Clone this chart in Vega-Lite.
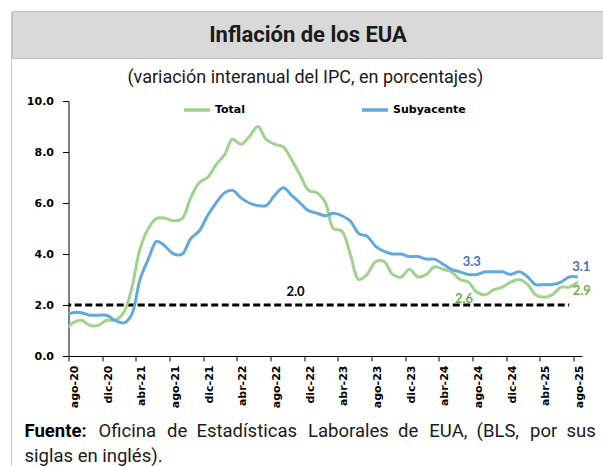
{
  "$schema": "https://vega.github.io/schema/vega-lite/v6.json",
  "padding": {"left": 10, "top": 10, "right": 0, "bottom": 0},
  "background": "white",
  "config": {"view": {"stroke": null}, "font": "Roboto"},
  "datasets": {
    "inflacion": [
      {"fecha": "2020-07-01", "Total": 1.0, "Subyacente": 1.6},
      {"fecha": "2020-08-01", "Total": 1.3, "Subyacente": 1.7},
      {"fecha": "2020-09-01", "Total": 1.4, "Subyacente": 1.7},
      {"fecha": "2020-10-01", "Total": 1.2, "Subyacente": 1.6},
      {"fecha": "2020-11-01", "Total": 1.2, "Subyacente": 1.6},
      {"fecha": "2020-12-01", "Total": 1.4, "Subyacente": 1.6},
      {"fecha": "2021-01-01", "Total": 1.4, "Subyacente": 1.4},
      {"fecha": "2021-02-01", "Total": 1.7, "Subyacente": 1.3},
      {"fecha": "2021-03-01", "Total": 2.6, "Subyacente": 1.6},
      {"fecha": "2021-04-01", "Total": 4.2, "Subyacente": 3.0},
      {"fecha": "2021-05-01", "Total": 5.0, "Subyacente": 3.8},
      {"fecha": "2021-06-01", "Total": 5.4, "Subyacente": 4.5},
      {"fecha": "2021-07-01", "Total": 5.4, "Subyacente": 4.3},
      {"fecha": "2021-08-01", "Total": 5.3, "Subyacente": 4.0},
      {"fecha": "2021-09-01", "Total": 5.4, "Subyacente": 4.0},
      {"fecha": "2021-10-01", "Total": 6.2, "Subyacente": 4.6},
      {"fecha": "2021-11-01", "Total": 6.8, "Subyacente": 4.9},
      {"fecha": "2021-12-01", "Total": 7.0, "Subyacente": 5.5},
      {"fecha": "2022-01-01", "Total": 7.5, "Subyacente": 6.0},
      {"fecha": "2022-02-01", "Total": 7.9, "Subyacente": 6.4},
      {"fecha": "2022-03-01", "Total": 8.5, "Subyacente": 6.5},
      {"fecha": "2022-04-01", "Total": 8.3, "Subyacente": 6.2},
      {"fecha": "2022-05-01", "Total": 8.6, "Subyacente": 6.0},
      {"fecha": "2022-06-01", "Total": 9.0, "Subyacente": 5.9},
      {"fecha": "2022-07-01", "Total": 8.5, "Subyacente": 5.9},
      {"fecha": "2022-08-01", "Total": 8.3, "Subyacente": 6.3},
      {"fecha": "2022-09-01", "Total": 8.2, "Subyacente": 6.6},
      {"fecha": "2022-10-01", "Total": 7.7, "Subyacente": 6.3},
      {"fecha": "2022-11-01", "Total": 7.1, "Subyacente": 6.0},
      {"fecha": "2022-12-01", "Total": 6.5, "Subyacente": 5.7},
      {"fecha": "2023-01-01", "Total": 6.4, "Subyacente": 5.6},
      {"fecha": "2023-02-01", "Total": 6.0, "Subyacente": 5.5},
      {"fecha": "2023-03-01", "Total": 5.0, "Subyacente": 5.6},
      {"fecha": "2023-04-01", "Total": 4.9, "Subyacente": 5.5},
      {"fecha": "2023-05-01", "Total": 4.0, "Subyacente": 5.3},
      {"fecha": "2023-06-01", "Total": 3.0, "Subyacente": 4.8},
      {"fecha": "2023-07-01", "Total": 3.2, "Subyacente": 4.7},
      {"fecha": "2023-08-01", "Total": 3.7, "Subyacente": 4.3},
      {"fecha": "2023-09-01", "Total": 3.7, "Subyacente": 4.1},
      {"fecha": "2023-10-01", "Total": 3.2, "Subyacente": 4.0},
      {"fecha": "2023-11-01", "Total": 3.1, "Subyacente": 4.0},
      {"fecha": "2023-12-01", "Total": 3.4, "Subyacente": 3.9},
      {"fecha": "2024-01-01", "Total": 3.1, "Subyacente": 3.9},
      {"fecha": "2024-02-01", "Total": 3.2, "Subyacente": 3.8},
      {"fecha": "2024-03-01", "Total": 3.5, "Subyacente": 3.8},
      {"fecha": "2024-04-01", "Total": 3.4, "Subyacente": 3.6},
      {"fecha": "2024-05-01", "Total": 3.3, "Subyacente": 3.4},
      {"fecha": "2024-06-01", "Total": 3.0, "Subyacente": 3.3},
      {"fecha": "2024-07-01", "Total": 2.9, "Subyacente": 3.2},
      {"fecha": "2024-08-01", "Total": 2.5, "Subyacente": 3.2},
      {"fecha": "2024-09-01", "Total": 2.4, "Subyacente": 3.3},
      {"fecha": "2024-10-01", "Total": 2.6, "Subyacente": 3.3},
      {"fecha": "2024-11-01", "Total": 2.7, "Subyacente": 3.3},
      {"fecha": "2024-12-01", "Total": 2.9, "Subyacente": 3.2},
      {"fecha": "2025-01-01", "Total": 3.0, "Subyacente": 3.3},
      {"fecha": "2025-02-01", "Total": 2.8, "Subyacente": 3.1},
      {"fecha": "2025-03-01", "Total": 2.4, "Subyacente": 2.8},
      {"fecha": "2025-04-01", "Total": 2.3, "Subyacente": 2.8},
      {"fecha": "2025-05-01", "Total": 2.4, "Subyacente": 2.8},
      {"fecha": "2025-06-01", "Total": 2.7, "Subyacente": 2.9},
      {"fecha": "2025-07-01", "Total": 2.7, "Subyacente": 3.1},
      {"fecha": "2025-08-01", "Total": 2.9, "Subyacente": 3.1}
    ],
    "meta": [
      {"fecha": "2020-07-01", "fecha2": "2025-07-01", "valor": 2.0}
    ],
    "etiquetas": [
      {"fecha": "2024-07-01", "valor": 3.3, "texto": "3.3", "serie": "Subyacente"},
      {"fecha": "2025-08-01", "valor": 3.1, "texto": "3.1", "serie": "Subyacente"},
      {"fecha": "2024-06-01", "valor": 2.6, "texto": "2.6", "serie": "Total"},
      {"fecha": "2025-08-01", "valor": 2.9, "texto": "2.9", "serie": "Total"},
      {"fecha": "2022-10-01", "valor": 2.0, "texto": "2.0", "serie": "Meta"}
    ]
  },
  "spacing": -1,
  "hconcat": [
    {
      "width": 0.001,
      "height": 455,
      "view": {"stroke": "#c8c8c8", "fill": null},
      "data": {"values": []},
      "mark": "text"
    },
    {
      "spacing": 9,
      "vconcat": [
        {
          "width": 592,
          "height": 47,
          "view": {"fill": "#d9d9d9", "stroke": "#bfbfbf"},
          "data": {"values": [{}]},
          "mark": {"type": "text", "text": "Inflación de los EUA", "font": "Roboto", "fontWeight": "bold", "fontSize": 22, "color": "#1a1a1a", "baseline": "middle", "align": "center"}
        },
        {
          "spacing": 11.5,
          "hconcat": [
            {"width": 0.001, "height": 0.001, "data": {"values": []}, "mark": "text"},
            {
              "width": 513.6,
              "height": 255,
              "title": {"text": "(variación interanual del IPC, en porcentajes)", "font": "Roboto", "fontSize": 18, "fontWeight": "normal", "color": "#1a1a1a", "anchor": "middle", "frame": "group", "dx": -20, "offset": 8.5},
              "encoding": {
                "x": {
                  "field": "fecha",
                  "type": "temporal",
                  "scale": {"type": "utc", "nice": false, "domain": [{"year": 2020, "month": 7, "date": 16, "hours": 12, "utc": true}, {"year": 2025, "month": 8, "date": 16, "hours": 12, "utc": true}]},
                  "axis": {
                    "title": null,
                    "grid": false,
                    "values": [
                      {"year": 2020, "month": 8, "date": 1, "utc": true},
                      {"year": 2020, "month": 12, "date": 1, "utc": true},
                      {"year": 2021, "month": 4, "date": 1, "utc": true},
                      {"year": 2021, "month": 8, "date": 1, "utc": true},
                      {"year": 2021, "month": 12, "date": 1, "utc": true},
                      {"year": 2022, "month": 4, "date": 1, "utc": true},
                      {"year": 2022, "month": 8, "date": 1, "utc": true},
                      {"year": 2022, "month": 12, "date": 1, "utc": true},
                      {"year": 2023, "month": 4, "date": 1, "utc": true},
                      {"year": 2023, "month": 8, "date": 1, "utc": true},
                      {"year": 2023, "month": 12, "date": 1, "utc": true},
                      {"year": 2024, "month": 4, "date": 1, "utc": true},
                      {"year": 2024, "month": 8, "date": 1, "utc": true},
                      {"year": 2024, "month": 12, "date": 1, "utc": true},
                      {"year": 2025, "month": 4, "date": 1, "utc": true},
                      {"year": 2025, "month": 8, "date": 1, "utc": true}
                    ],
                    "labelExpr": "['ene','feb','mar','abr','may','jun','jul','ago','sep','oct','nov','dic'][utcmonth(datum.value)] + '-' + utcFormat(datum.value, '%y')",
                    "labelAngle": -90,
                    "labelFont": "DejaVu Sans",
                    "labelFontWeight": "bold",
                    "labelFontSize": 11,
                    "labelColor": "black",
                    "labelPadding": 4,
                    "tickSize": 5,
                    "tickColor": "black",
                    "domainColor": "black",
                    "tickOffset": -4.21,
                    "labelOffset": 6,
                    "labelFlush": false,
                    "labelOverlap": false
                  }
                },
                "y": {
                  "field": "valor",
                  "type": "quantitative",
                  "scale": {"domain": [0, 10], "nice": false},
                  "axis": {
                    "title": null,
                    "grid": false,
                    "values": [0, 2, 4, 6, 8, 10],
                    "format": ".1f",
                    "labelFont": "DejaVu Sans",
                    "labelFontWeight": "bold",
                    "labelFontSize": 11,
                    "labelColor": "black",
                    "labelPadding": 9,
                    "tickSize": 6,
                    "tickColor": "black",
                    "domainColor": "black"
                  }
                }
              },
              "layer": [
                {
                  "data": {"name": "meta"},
                  "mark": {"type": "rule", "strokeDash": [7, 3.5], "strokeWidth": 3, "color": "black", "clip": true},
                  "encoding": {"x2": {"field": "fecha2"}}
                },
                {
                  "data": {"name": "inflacion"},
                  "transform": [{"fold": ["Total", "Subyacente"], "as": ["serie", "valor"]}],
                  "mark": {"type": "line", "interpolate": "catmull-rom", "strokeWidth": 3, "clip": true},
                  "encoding": {
                    "color": {
                      "field": "serie",
                      "type": "nominal",
                      "scale": {"domain": ["Total", "Subyacente"], "range": ["#9FD38E", "#62AADB"]},
                      "legend": {
                        "title": null,
                        "orient": "none",
                        "legendX": 171,
                        "legendY": 84,
                        "direction": "horizontal",
                        "symbolType": "stroke",
                        "symbolSize": 676,
                        "symbolStrokeWidth": 3.5,
                        "labelFont": "DejaVu Sans",
                        "labelFontWeight": "bold",
                        "labelFontSize": 11,
                        "labelColor": "black",
                        "labelOffset": 3,
                        "columnPadding": 109
                      }
                    }
                  }
                },
                {
                  "data": {"name": "etiquetas"},
                  "transform": [{"filter": "datum.serie === 'Subyacente'"}],
                  "mark": {"type": "text", "font": "Lato", "fontWeight": "bold", "fontSize": 13, "color": "#4472C4", "dx": 3.5, "dy": -10},
                  "encoding": {"text": {"field": "texto"}}
                },
                {
                  "data": {"name": "etiquetas"},
                  "transform": [{"filter": "datum.serie === 'Total'"}],
                  "mark": {"type": "text", "font": "Lato", "fontWeight": "bold", "fontSize": 13, "color": "#70AD47", "dx": 4, "dy": 9},
                  "encoding": {"text": {"field": "texto"}}
                },
                {
                  "data": {"name": "etiquetas"},
                  "transform": [{"filter": "datum.serie === 'Meta'"}],
                  "mark": {"type": "text", "font": "Lato", "fontWeight": "bold", "fontSize": 13, "color": "black", "dx": 4, "dy": -12.7},
                  "encoding": {"text": {"field": "texto"}}
                },
                {
                  "data": {"values": [{}]},
                  "mark": {"type": "text", "text": "Fuente:", "align": "left", "baseline": "middle", "font": "Roboto", "fontSize": 18.5, "fontWeight": "bold", "color": "black"},
                  "encoding": {"x": {"value": -44}, "y": {"value": 330.3}}
                },
                {
                  "data": {"values": [{}]},
                  "mark": {"type": "text", "text": "Oficina\u00a0\u200a de\u00a0 Estadísticas\u00a0\u200a Laborales\u00a0 de\u00a0\u200a EUA,\u00a0 (BLS,\u00a0\u200a por\u00a0 sus", "align": "left", "baseline": "middle", "font": "Roboto", "fontSize": 18.5, "color": "#1a1a1a"},
                  "encoding": {"x": {"value": 30}, "y": {"value": 330.3}}
                },
                {
                  "data": {"values": [{}]},
                  "mark": {"type": "text", "text": "siglas en inglés).", "align": "left", "baseline": "middle", "font": "Roboto", "fontSize": 18.5, "color": "#1a1a1a"},
                  "encoding": {"x": {"value": -44}, "y": {"value": 355.3}}
                }
              ]
            }
          ]
        }
      ]
    }
  ]
}
